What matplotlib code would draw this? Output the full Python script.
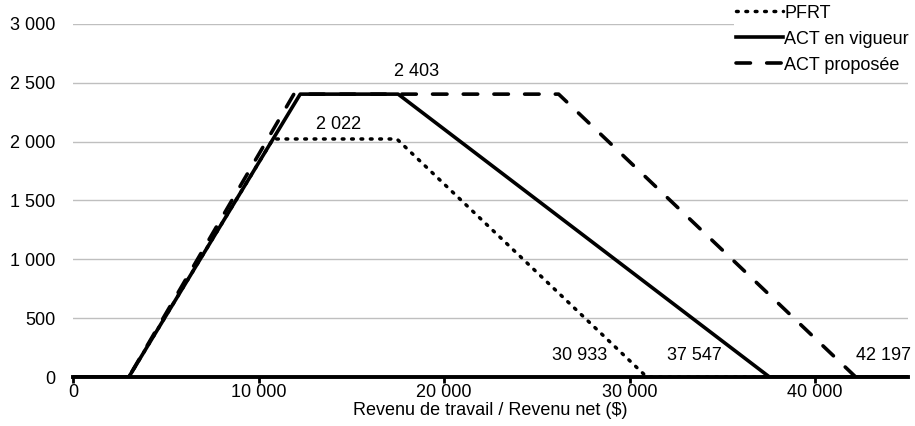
import matplotlib.pyplot as plt
from matplotlib.ticker import FuncFormatter

plt.rcParams['font.family'] = ['Liberation Sans', 'DejaVu Sans']
plt.rcParams['font.size'] = 13

# breakpoints of each schedule (income $, benefit $)
pfrt_x = [0, 3000, 10777, 17453, 30933, 45000]
pfrt_y = [0, 0, 2022, 2022, 0, 0]
act_x = [0, 3000, 12242, 17522, 37547, 45000]
act_y = [0, 0, 2403, 2403, 0, 0]
prop_x = [0, 3000, 11900, 26177, 42197, 45000]
prop_y = [0, 0, 2403, 2403, 0, 0]

# value labels: text, x, y
labels = ["2 022", "2 403", "30 933", "37 547", "42 197"]
label_x = [14300, 18500, 27300, 33500, 43700]
label_y = [2145, 2595, 185, 185, 185]


def spaced(v, pos):
    return f"{int(v):,}".replace(",", " ")


fig, ax = plt.subplots(figsize=(9.15, 4.26), dpi=100)
fig.subplots_adjust(left=0.08, right=0.992, top=0.944, bottom=0.115)

ax.plot(pfrt_x, pfrt_y, color="black", lw=2.5, linestyle=(0, (0.5, 2.2)),
        dash_capstyle="round", label="PFRT", zorder=3)
ax.plot(act_x, act_y, color="black", lw=2.6, label="ACT en vigueur", zorder=4)
ax.plot(prop_x, prop_y, color="black", lw=2.6, linestyle=(0, (4, 4.5)),
        dash_capstyle="round", label="ACT proposée", zorder=3)

for t, x, y in zip(labels, label_x, label_y):
    ax.text(x, y, t, ha="center", va="center", fontsize=13)

ax.set_xlim(0, 45000)
ax.set_ylim(0, 3000)
ax.set_xticks(range(0, 45000, 10000))
ax.set_yticks(range(0, 3001, 500))
ax.xaxis.set_major_formatter(FuncFormatter(spaced))
ax.yaxis.set_major_formatter(FuncFormatter(spaced))
ax.grid(axis="y", color="#bfbfbf", lw=1)
ax.set_axisbelow(True)
for s in ["left", "right", "top"]:
    ax.spines[s].set_visible(False)
ax.spines["bottom"].set_linewidth(2.8)
ax.tick_params(axis="y", length=0, pad=13)
ax.tick_params(axis="x", length=4, width=2, pad=1)

ax.set_xlabel("Revenu de travail / Revenu net ($)", labelpad=0)
ax.xaxis.set_label_coords(0.5, -0.07)

leg = ax.legend(loc="upper right", bbox_to_anchor=(1.008, 1.07), frameon=True,
                edgecolor="none", facecolor="white", framealpha=1,
                handlelength=2.6, handletextpad=0.1, labelspacing=0.5,
                borderpad=0.1, borderaxespad=0.2, fontsize=13)

plt.savefig("out.png", dpi=100)
